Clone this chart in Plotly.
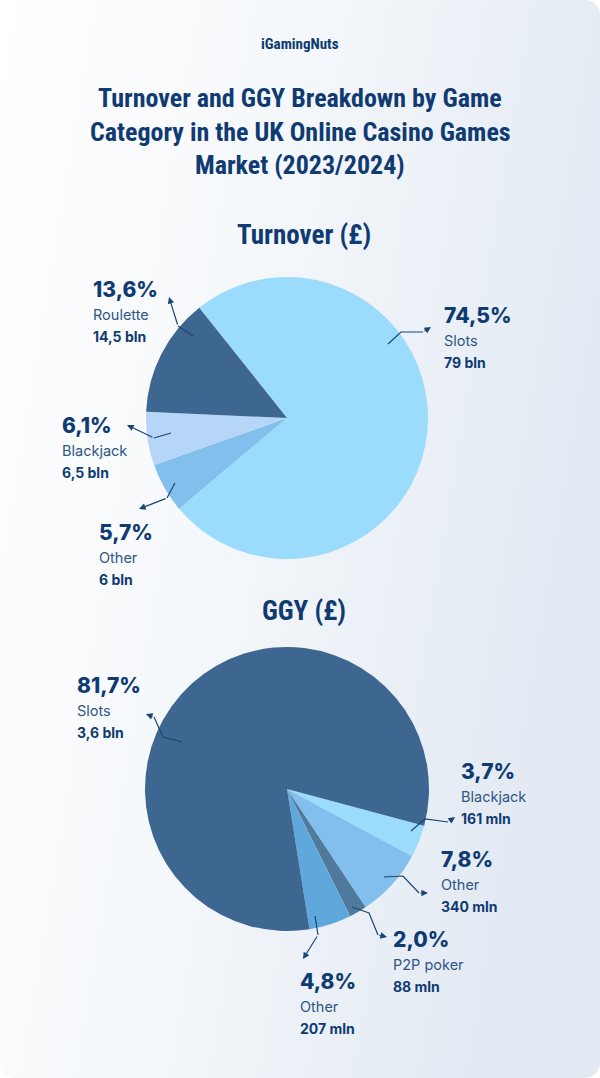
import base64
import plotly.graph_objects as go

W, H = 600, 1078

# ---------------- data ----------------
turn_labels = ["Slots", "Other", "Blackjack", "Roulette"]
turn_values = [74.5, 5.7, 6.1, 13.6]
turn_pct = ["74,5%", "5,7%", "6,1%", "13,6%"]
turn_amount = ["79 bln", "6 bln", "6,5 bln", "14,5 bln"]
turn_colors = ["#9BDCFD", "#82BFED", "#B6D6F7", "#3D6690"]

ggy_ids = ["blackjack", "other_a", "p2p", "other_b", "slots"]
ggy_labels = ["Blackjack", "Other", "P2P poker", "Other", "Slots"]
ggy_values = [3.7, 7.8, 2.0, 4.8, 81.7]
ggy_pct = ["3,7%", "7,8%", "2,0%", "4,8%", "81,7%"]
ggy_amount = ["161 mln", "340 mln", "88 mln", "207 mln", "3,6 bln"]
ggy_colors = ["#9BDCFD", "#82BFED", "#4F7A9C", "#5FA8DC", "#3D6690"]

# ---------------- layout (pixels) ----------------
turn_label_pos = [(442, 315), (97, 532), (60, 425), (91, 289)]
turn_leaders = [
    [(388, 344), (401, 332), (423, 332), (431, 327)],
    [(175, 483), (167, 498), (139, 509)],
    [(171, 433), (154, 438), (127, 425)],
    [(193, 336), (178, 326), (169, 297)],
]
ggy_label_pos = [(459, 771), (439, 859), (391, 939), (298, 981), (75, 685)]
ggy_leaders = [
    [(411, 831), (425, 819), (448, 822), (455, 817)],
    [(384, 877), (403, 876), (419, 893), (428, 893)],
    [(352, 907), (369, 913), (378, 935), (387, 937)],
    [(315, 916), (318, 935), (303, 959)],
    [(182, 742), (163, 737), (154, 717), (146, 714)],
]

NAVY = "#0F3B72"
NAME_C = "#2F5686"
LINE_C = "#1B4477"
LABEL_FONT = "Inter, Roboto, sans-serif"
TITLE_FONT = "Roboto Condensed, Roboto, sans-serif"


def dom(cx, cy, r):
    return dict(x=[(cx - r) / W, (cx + r) / W], y=[1 - (cy + r) / H, 1 - (cy - r) / H])


fig = go.Figure()
fig.add_trace(go.Scatter(x=[], y=[], showlegend=False, hoverinfo="skip"))
fig.add_trace(go.Pie(
    labels=turn_labels, values=turn_values, sort=False, direction="clockwise",
    rotation=-38.5, marker=dict(colors=turn_colors, line=dict(width=0)),
    textinfo="none", showlegend=False, domain=dom(287, 418, 141),
    hovertemplate="%{label}: %{value}%<extra></extra>",
))
fig.add_trace(go.Pie(
    labels=ggy_ids, values=ggy_values, sort=False, direction="clockwise",
    rotation=105, marker=dict(colors=ggy_colors, line=dict(width=0)),
    textinfo="none", showlegend=False, domain=dom(287, 789, 142),
    customdata=ggy_labels,
    hovertemplate="%{customdata}: %{value}%<extra></extra>",
))

ann = []
shapes = []


def txt(x, y, s, size, color, family, weight="normal", xanchor="left"):
    ann.append(dict(x=x, y=y, xref="x", yref="y", text=s, showarrow=False,
                    xanchor=xanchor, yanchor="middle",
                    font=dict(size=size, color=color, family=family, weight=weight)))


def label_group(pos, pct, name, amount):
    x, y = pos
    txt(x, y, pct, 21, NAVY, LABEL_FONT, 800)
    txt(x, y + 25, name, 14.5, NAME_C, LABEL_FONT)
    txt(x, y + 47, amount, 14, NAVY, LABEL_FONT, "bold")


def leader(pts):
    path = "M " + " L ".join(f"{px},{py}" for px, py in pts[:-1])
    shapes.append(dict(type="path", path=path, xref="x", yref="y",
                       line=dict(color=LINE_C, width=1.2), layer="above"))
    (x0, y0), (x1, y1) = pts[-2], pts[-1]
    ann.append(dict(x=x1, y=y1, ax=x0, ay=y0, xref="x", yref="y", axref="x", ayref="y",
                    text="", showarrow=True, arrowhead=2, arrowsize=1.1, arrowwidth=1.2,
                    arrowcolor=LINE_C, standoff=0, startstandoff=0))


for i in range(len(turn_labels)):
    label_group(turn_label_pos[i], turn_pct[i], turn_labels[i], turn_amount[i])
    leader(turn_leaders[i])
for i in range(len(ggy_labels)):
    label_group(ggy_label_pos[i], ggy_pct[i], ggy_labels[i], ggy_amount[i])
    leader(ggy_leaders[i])

# titles
txt(300, 44, "iGamingNuts", 15, NAVY, TITLE_FONT, "bold", "center")
title_lines = ["Turnover and GGY Breakdown by Game",
               "Category in the UK Online Casino Games",
               "Market (2023/2024)"]
for k, line in enumerate(title_lines):
    txt(300, 98 + 33.5 * k, line, 26, NAVY, TITLE_FONT, "bold", "center")
txt(304, 235, "Turnover (£)", 27, NAVY, TITLE_FONT, "bold", "center")
txt(304, 611, "GGY (£)", 27, NAVY, TITLE_FONT, "bold", "center")

svg = (f"<svg xmlns='http://www.w3.org/2000/svg' width='{W}' height='{H}' viewBox='0 0 {W} {H}'>"
       "<defs><linearGradient id='g' x1='0' y1='0' x2='1' y2='0.3'>"
       "<stop offset='0' stop-color='#FFFFFF'/><stop offset='0.45' stop-color='#F5F8FB'/>"
       "<stop offset='1' stop-color='#E3EAF3'/></linearGradient></defs>"
       f"<rect x='0' y='0' width='{W}' height='{H}' rx='15' ry='15' fill='url(#g)'/></svg>")
src = "data:image/svg+xml;base64," + base64.b64encode(svg.encode()).decode()

fig.update_layout(
    width=W, height=H, margin=dict(l=0, r=0, t=0, b=0),
    paper_bgcolor="#FFFFFF", plot_bgcolor="rgba(0,0,0,0)",
    xaxis=dict(range=[0, W], visible=False, fixedrange=True, domain=[0, 1]),
    yaxis=dict(range=[H, 0], visible=False, fixedrange=True, domain=[0, 1]),
    annotations=ann, shapes=shapes,
    images=[dict(source=src, xref="paper", yref="paper", x=0, y=1, sizex=1, sizey=1,
                 xanchor="left", yanchor="top", sizing="stretch", layer="below")],
    showlegend=False,
)

fig.write_html("out.html", config={"displayModeBar": False},
               post_script="document.body.style.margin='0';")
